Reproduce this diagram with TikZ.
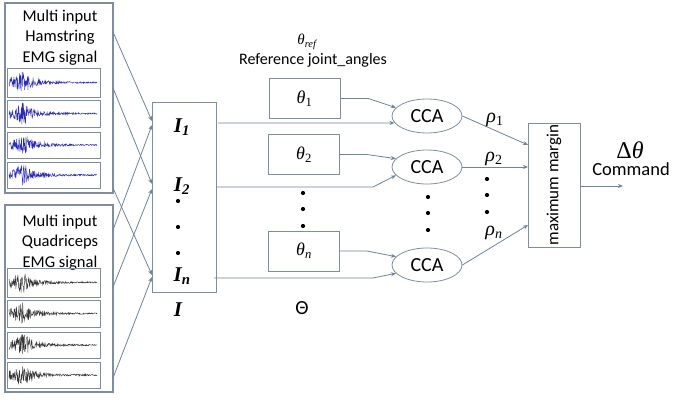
\documentclass[tikz,border=0pt]{standalone}
\usepackage{fontspec}
\newfontfamily\carl{Carlito}
\newfontfamily\timesf{Liberation Serif}
\usetikzlibrary{shapes.geometric,arrows.meta}
\definecolor{conn}{RGB}{112,132,152}
\definecolor{boxc}{RGB}{128,142,156}
\definecolor{emgblue}{RGB}{45,45,175}
\definecolor{emggray}{RGB}{55,55,55}
\newcommand\gk[1]{{\timesf\itshape #1}}
\newcommand\sbu[1]{\textsubscript{\timesf #1}}
\newcommand\sbi[1]{\textsubscript{\timesf\itshape #1}}
\newcommand\emgwave[4]{%
  \pgfmathsetseed{#4}%
  \draw[#3,line width=0.45pt] plot[domain=0:88,samples=220,variable=\t]
    ({#1+\t},{#2+(9/(1+((\t-14)/7)^2)+2.2*exp(-\t/30)+0.5)*rand});
}
\begin{document}
\begin{tikzpicture}[x=1pt,y=-1pt,
  conn/.style={draw=conn,line width=0.8pt},
  arr/.style={conn,-{Stealth[length=5pt,width=4pt]}},
  outer/.style={draw=boxc,line width=1.2pt,inner sep=0pt},
  subbox/.style={draw=boxc,line width=0.7pt},
  pbox/.style={draw=boxc,line width=0.8pt,inner sep=0pt},
  hand/.style={font=\carl\fontsize{16.5}{20.5}\selectfont,align=center,inner sep=0pt},
  ilab/.style={font=\timesf\bfseries\itshape\fontsize{21}{24}\selectfont,inner sep=0pt},
  cca/.style={ellipse,draw=boxc,line width=0.8pt,minimum width=70,minimum height=34,inner sep=0pt,font=\carl\fontsize{20}{22}\selectfont},
  tbox/.style={pbox,minimum width=71,minimum height=40,font=\fontsize{18}{20}\selectfont},
  dot/.style={circle,fill=black,inner sep=0pt,minimum size=4.2pt},
  glab/.style={font=\fontsize{20}{22}\selectfont,inner sep=0pt}]
\useasboundingbox (0,0) rectangle (696,401);
\fill[white] (0,0) rectangle (696,401);

% EMG input boxes
\node[outer,minimum width=108,minimum height=190] (ham) at (59,98) {};
\node[outer,minimum width=108,minimum height=187] (quad) at (59,298.5) {};
\node[hand] (hamt) at (60,37.5) {Multi input\\Hamstring\\EMG signal};
\node[hand] (quadt) at (60,242.5) {Multi input\\Quadriceps\\EMG signal};

\foreach \ya/\yb/\s in {68/97/3,100/127/7,132/158/11,162/188/15}{
  \draw[subbox] (7,\ya) rectangle (100,\yb);
  \emgwave{9}{(\ya+\yb)/2}{emgblue}{\s}
}
\foreach \ya/\yb/\s in {268/297/21,300/327/25,332/358/29,362/388/33}{
  \draw[subbox] (7,\ya) rectangle (100,\yb);
  \emgwave{9}{(\ya+\yb)/2}{emggray}{\s}
}

% I box
\node[pbox,minimum width=64,minimum height=190] (Ibox) at (184,197) {};
\node[ilab] (I1) at (182,127) {I\textsubscript{1}};
\node[ilab] (I2) at (182,186) {I\textsubscript{2}};
\node[ilab] (In) at (182,276) {I\textsubscript{n}};
\node[ilab] (Ilab) at (178,310) {I};
\node[dot] (id1) at (178,201) {};
\node[dot] (id2) at (178,227) {};
\node[dot] (id3) at (178,253) {};

% EMG -> I connectors
\coordinate (h1) at (113,32);
\coordinate (h2) at (113,88);
\coordinate (h3) at (113,188);
\coordinate (q1) at (113,230);
\coordinate (q2) at (113,287);
\coordinate (q3) at (113,378);
\coordinate (a1) at (152,121);
\coordinate (a1b) at (152,125);
\coordinate (a2) at (152,184);
\coordinate (a2b) at (152,189);
\coordinate (an) at (152,275);
\coordinate (anb) at (152,277);
\draw[arr] (h1) -- (a1);
\draw[arr] (h2) -- (a2);
\draw[arr] (h3) -- (an);
\draw[arr] (q1) -- (a1b);
\draw[arr] (q2) -- (a2b);
\draw[arr] (q3) -- (anb);

% reference angles
\node[font=\fontsize{15}{17}\selectfont,inner sep=0pt] (tref) at (307,42) {\gk{θ}\sbi{ref}};
\node[hand,font=\carl\fontsize{16}{18}\selectfont] (reft) at (313,60) {Reference joint\_angles};
\node[tbox] (t1) at (304.5,98.5) {\gk{θ}\sbu{1}};
\node[tbox] (t2) at (304,154.5) {\gk{θ}\sbu{2}};
\node[tbox] (tn) at (304,251) {\gk{θ}\sbi{n}};
\node[dot] (td1) at (303,193) {};
\node[dot] (td2) at (303,209) {};
\node[dot] (td3) at (303,226) {};
\node[font=\carl\fontsize{20}{22}\selectfont,inner sep=0pt] (Theta) at (302,308) {Θ};

% CCA
\node[cca] (cca1) at (427,116) {CCA};
\node[cca] (cca2) at (427,167) {CCA};
\node[cca] (cca3) at (427,265) {CCA};
\node[dot] (cd1) at (428,197) {};
\node[dot] (cd2) at (428,213) {};
\node[dot] (cd3) at (428,230) {};

\draw[arr] (t1.east) -- ++(28,0) -- (cca1.165);
\draw[arr] (t2.east) -- ++(27,0) -- (cca2.165);
\draw[arr] (tn.east) -- ++(27,0) -- (cca3.165);
\coordinate (o1) at (218,123);
\coordinate (o2) at (216,187);
\coordinate (on) at (214,278);
\draw[arr] (o1) -- (373,123) -- (cca1.192);
\draw[arr] (o2) -- (373,187) -- (cca2.195);
\draw[arr] (on) -- (373,278) -- (cca3.195);

% maximum margin
\node[pbox,minimum width=52,minimum height=124] (mm) at (554,185) {};
\node[rotate=90,font=\carl\fontsize{17}{19}\selectfont,inner sep=0pt] (mmt) at (mm.center) {maximum margin};
\coordinate (m1) at (528,145);
\coordinate (m2) at (528,167);
\coordinate (mn) at (528,225);
\draw[arr] (cca1.east) -- (m1);
\draw[arr] (cca2.east) -- (m2);
\draw[arr] (cca3.east) -- (mn);
\node[glab] (r1) at (495,120) {\gk{ρ}\sbu{1}};
\node[glab] (r2) at (494,159) {\gk{ρ}\sbu{2}};
\node[glab] (rn) at (494,233) {\gk{ρ}\sbi{n}};
\node[dot] (rd1) at (487,179) {};
\node[dot] (rd2) at (487,195) {};
\node[dot] (rd3) at (487,212) {};

% output
\coordinate (out) at (623,186);
\draw[arr] (mm.east |- out) -- (out);
\node[font=\timesf\fontsize{24}{26}\selectfont,inner sep=0pt] (dt) at (630,150) {Δ\gk{θ}};
\node[font=\carl\fontsize{18.5}{20}\selectfont,inner sep=0pt] (cmd) at (631,169) {Command};
\end{tikzpicture}
\end{document}
